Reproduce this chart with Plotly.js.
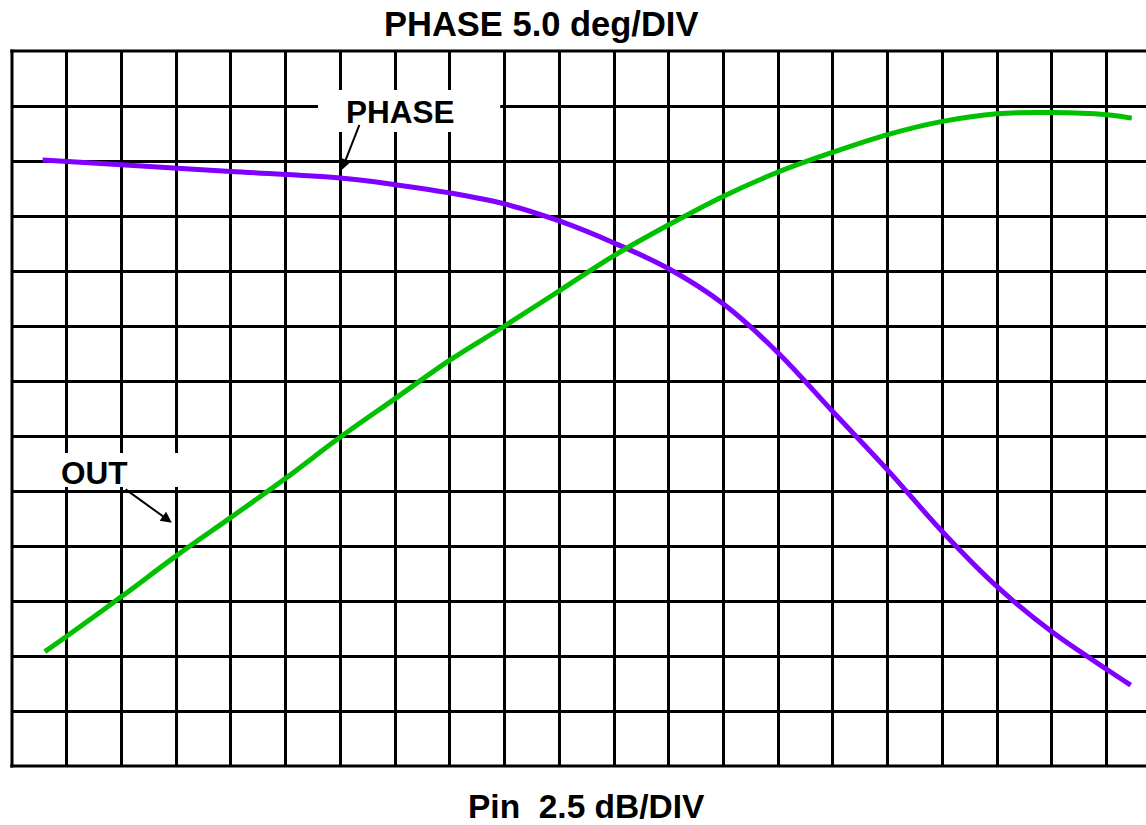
<!DOCTYPE html>
<html>
<head>
<meta charset="utf-8">
<script src="https://cdn.plot.ly/plotly-3.0.1.min.js"></script>
<style>
  html, body { margin: 0; padding: 0; background: #ffffff; }
  #chart { width: 1146px; height: 825px; }
</style>
</head>
<body>
<div id="chart"></div>
<script>
// Input power sweep (dB) for the phase trace
const pinPhase = [1.4, 5, 10, 15, 17.5, 20, 22.5, 25, 27.5, 30, 32.5, 35, 37.5, 40, 42.5, 45, 47.5, 50, 51.1];
// Phase response (deg), 5.0 deg per division
const phaseDeg = [55.1, 54.65, 54.05, 53.45, 52.85, 52.1, 51.1, 49.55, 47.55, 45.2, 42.0, 37.55, 32.2, 26.9, 21.3, 16.3, 12.2, 8.8, 7.35];

// Input power sweep (dB) for the output trace
const pinOut = [1.5, 2.5, 5, 7.5, 10, 12.5, 15, 17.5, 20, 22.5, 25, 27.5, 30, 32.5, 35, 37.5, 40, 42.5, 45, 47.5, 50, 51.15];
// Output power (dB), 2.5 dB per division
const outDb = [5.2, 5.9, 7.7, 9.55, 11.3, 13.08, 14.95, 16.7, 18.45, 20.0, 21.6, 23.2, 24.6, 25.9, 27.0, 27.9, 28.7, 29.3, 29.65, 29.7, 29.6, 29.45];

// Grid scale
const pinPerDiv = 2.5;
const phasePerDiv = 5.0;
const outPerDiv = 2.5;
const yDivs = 13;
const xDivsVisible = 20.72;

const FONT = '"Liberation Sans", Arial, Helvetica, sans-serif';

const traces = [
  {
    x: pinPhase, y: phaseDeg, type: 'scatter', mode: 'lines', name: 'PHASE',
    line: { color: '#8000ff', width: 5, shape: 'spline', smoothing: 1 },
    yaxis: 'y', hoverinfo: 'skip'
  },
  {
    x: pinOut, y: outDb, type: 'scatter', mode: 'lines', name: 'OUT',
    line: { color: '#00c000', width: 5, shape: 'spline', smoothing: 1 },
    yaxis: 'y2', hoverinfo: 'skip'
  }
];

const gridAxis = {
  showgrid: true, gridcolor: '#000000', gridwidth: 3,
  zeroline: false, showticklabels: false, ticks: '',
  showline: false, fixedrange: true
};

// frame edges: left, bottom and top (the right side runs off the page)
const borderLine = { color: '#000000', width: 3 };
const frame = [
  { type: 'line', layer: 'between', xref: 'paper', yref: 'paper', x0: 0, x1: 0, y0: -0.002, y1: 1.002, line: borderLine },
  { type: 'line', layer: 'between', xref: 'paper', yref: 'paper', x0: -0.0015, x1: 1, y0: 0, y1: 0, line: borderLine },
  { type: 'line', layer: 'between', xref: 'paper', yref: 'paper', x0: -0.0015, x1: 1, y0: 1, y1: 1, line: borderLine }
];

const layout = {
  width: 1146, height: 825,
  margin: { l: 12, r: 0, t: 51, b: 59, pad: 0 },
  paper_bgcolor: '#ffffff', plot_bgcolor: '#ffffff',
  showlegend: false,
  font: { family: FONT, color: '#000000' },
  xaxis: Object.assign({}, gridAxis, {
    range: [0, xDivsVisible * pinPerDiv], dtick: pinPerDiv, tick0: 0
  }),
  yaxis: Object.assign({}, gridAxis, {
    range: [0, yDivs * phasePerDiv], dtick: phasePerDiv, tick0: 0
  }),
  yaxis2: {
    overlaying: 'y', range: [0, yDivs * outPerDiv], visible: false, fixedrange: true
  },
  shapes: frame.concat([
    // white label backgrounds
    { type: 'rect', layer: 'above', xref: 'x', yref: 'y', x0: 13.98, x1: 22.3, y0: 57.64, y1: 61.45,
      fillcolor: '#ffffff', line: { width: 0 } },
    { type: 'rect', layer: 'above', xref: 'x', yref: 'y', x0: 0.82, x1: 7.77, y0: 25.36, y1: 28.45,
      fillcolor: '#ffffff', line: { width: 0 } }
  ]),
  annotations: [
    { text: '<b>PHASE 5.0 deg/DIV</b>', xref: 'paper', yref: 'paper', x: 0.4665, y: 1.0379,
      xanchor: 'center', yanchor: 'middle', showarrow: false, font: { family: FONT, size: 34.5, color: '#000' } },
    { text: '<b>Pin\u00a0 2.5 dB/DIV</b>', xref: 'paper', yref: 'paper', x: 0.507, y: -0.056,
      xanchor: 'center', yanchor: 'middle', showarrow: false, font: { family: FONT, size: 33.5, color: '#000' } },
    { text: '<b>PHASE</b>', xref: 'x', yref: 'y', x: 17.73, y: 59.41,
      xanchor: 'center', yanchor: 'middle', showarrow: false, font: { family: FONT, size: 31.5, color: '#000' } },
    { text: '<b>OUT</b>', xref: 'x', yref: 'y', x: 3.76, y: 26.68,
      xanchor: 'center', yanchor: 'middle', showarrow: false, font: { family: FONT, size: 31.5, color: '#000' } },
    // pointer arrows
    { text: '', xref: 'x', yref: 'y', x: 15.06, y: 54.18, ax: 18.3, ay: -46.7,
      showarrow: true, arrowhead: 2, arrowsize: 1.1, arrowwidth: 2, arrowcolor: '#000', standoff: 0 },
    { text: '', xref: 'x', yref: 'y', x: 7.30, y: 22.12, ax: -47.7, ay: -34.4,
      showarrow: true, arrowhead: 2, arrowsize: 1.1, arrowwidth: 2, arrowcolor: '#000', standoff: 0 }
  ]
};

Plotly.newPlot('chart', traces, layout, { displayModeBar: false, staticPlot: true });
</script>
</body>
</html>
